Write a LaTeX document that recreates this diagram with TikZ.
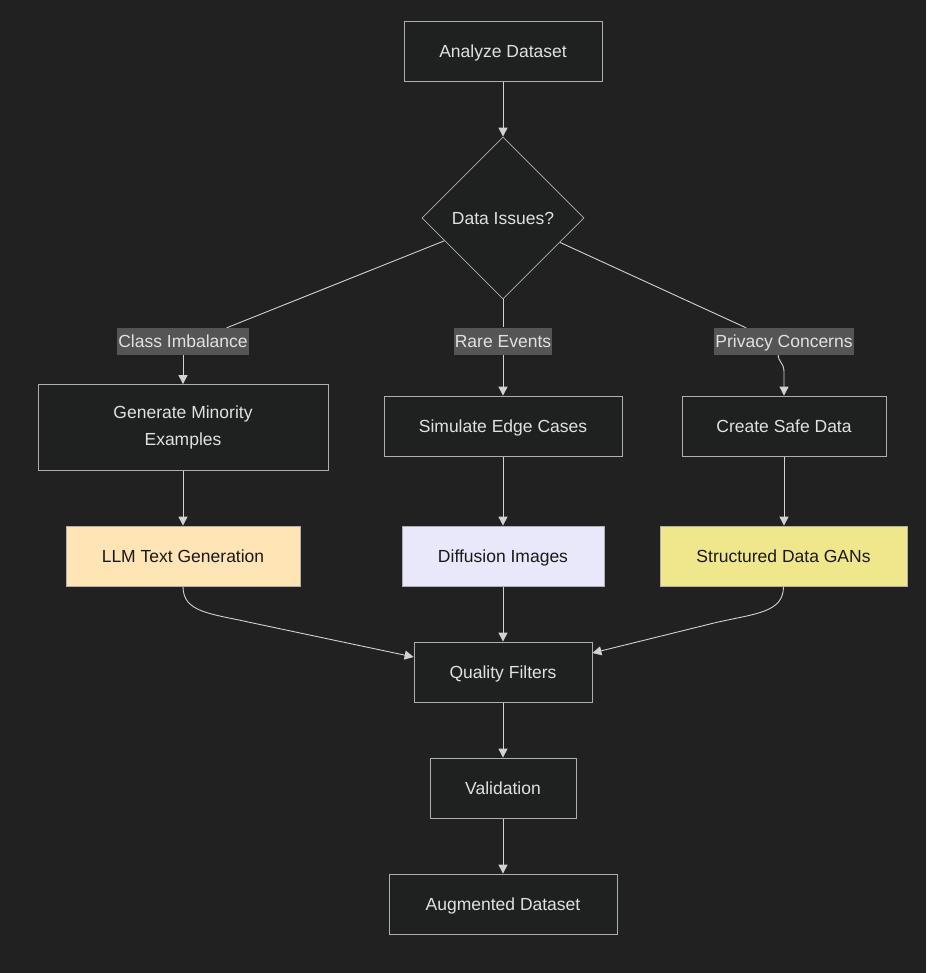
\documentclass[tikz,border=0pt]{standalone}
\usepackage{fontspec}
\setmainfont{Liberation Sans}
\usetikzlibrary{shapes.geometric,arrows.meta,calc}
\definecolor{bgc}{RGB}{33,33,33}
\definecolor{boxfill}{RGB}{31,32,32}
\definecolor{boxline}{RGB}{175,175,175}
\definecolor{linec}{RGB}{210,210,210}
\definecolor{txt}{RGB}{225,225,225}
\definecolor{lblfill}{RGB}{85,85,85}
\definecolor{moccasin}{RGB}{255,228,181}
\definecolor{lavender}{RGB}{232,232,250}
\definecolor{khaki}{RGB}{240,230,140}
\pgfdeclarelayer{back}
\pgfdeclarelayer{bg}
\pgfsetlayers{back,bg,main}
\tikzset{
  x=1pt, y=-1pt,
  every node/.style={font=\fontsize{17.5}{27}\selectfont},
  oneline/.style={text height=12.6pt, text depth=0pt},
  box/.style={draw=boxline, fill=boxfill, text=txt, line width=0.8pt, inner sep=0pt, align=center},
  sbox/.style={box, oneline},
  cbox/.style={draw=boxline, line width=0.8pt, inner sep=0pt, oneline, text={rgb,255:red,25;green,25;blue,25}},
  lbl/.style={fill=lblfill, text=txt, inner xsep=1pt, inner ysep=7.2pt, oneline},
  conn/.style={draw=linec, line width=0.9pt},
  arr/.style={conn, -{Triangle[length=9pt,width=9pt]}},
}
\begin{document}
\begin{tikzpicture}
\begin{pgfonlayer}{back}
\fill[bgc] (0,0) rectangle (926,973);
\end{pgfonlayer}
\useasboundingbox (0,0) rectangle (926,973);

\node[sbox, minimum width=198pt, minimum height=60pt] (ad) at (503,51) {Analyze Dataset};
\node[sbox, shape=diamond, minimum width=162pt, minimum height=162pt] (dia) at (503,218) {Data Issues?};

\node[lbl] (l1) at (183,341) {Class Imbalance};
\node[lbl] (l2) at (503,341) {Rare Events};
\node[lbl] (l3) at (784,341) {Privacy Concerns};

\node[box, minimum width=290pt, minimum height=86pt] (gm) at (183,427.5) {Generate Minority\\Examples};
\node[sbox, minimum width=238pt, minimum height=60pt] (se) at (503,426) {Simulate Edge Cases};
\node[sbox, minimum width=204pt, minimum height=60pt] (cs) at (784,426) {Create Safe Data};

\node[cbox, fill=moccasin, minimum width=234pt, minimum height=60pt] (llm) at (183,556) {LLM Text Generation};
\node[cbox, fill=lavender, minimum width=202pt, minimum height=60pt] (di) at (503,556) {Diffusion Images};
\node[cbox, fill=khaki, minimum width=247pt, minimum height=60pt] (sd) at (783.5,556) {Structured Data GANs};

\node[sbox, minimum width=178pt, minimum height=60pt] (qf) at (503,672) {Quality Filters};
\node[sbox, minimum width=146pt, minimum height=60pt] (va) at (503,788) {Validation};
\node[sbox, minimum width=228pt, minimum height=60pt] (au) at (503,904) {Augmented Dataset};

\begin{pgfonlayer}{bg}
\draw[arr] (ad) -- (dia);
% diamond to labels
\draw[conn] ($(dia.west)!0.28!(dia.south)$) -- ([xshift=45pt]l1.north) -- (l1.south);
\draw[conn] (dia.south) -- (l2);
\draw[conn] ($(dia.east)!0.30!(dia.south)$) -- ([xshift=-39pt]l3.north) -- ([xshift=-6pt]l3.south);
% labels to boxes
\draw[arr] (l1.south) -- (gm.north);
\draw[arr] (l2.south) -- (se.north);
\draw[arr] ([xshift=-6pt]l3.south) .. controls ([xshift=-6pt,yshift=-7pt]l3.south) and ([yshift=-8pt]l3.south) .. ([yshift=-17pt]l3.south) -- (cs.north);
% boxes to tools
\draw[arr] (gm) -- (llm);
\draw[arr] (se) -- (di);
\draw[arr] (cs.south) -- (cs.south |- sd.north);
% tools to quality filters
\draw[arr] (llm.south) .. controls ([yshift=-26pt]llm.south) and ([xshift=27pt,yshift=-27pt]llm.south) .. ([xshift=67pt,yshift=-36pt]llm.south) -- ([yshift=15pt]qf.west);
\draw[arr] (di) -- (qf);
\draw[arr] (sd.south) .. controls ([yshift=-26pt]sd.south) and ([xshift=-27pt,yshift=-27pt]sd.south) .. ([xshift=-67pt,yshift=-36pt]sd.south) -- ([yshift=19pt]qf.east);
\draw[arr] (qf) -- (va);
\draw[arr] (va) -- (au);
\end{pgfonlayer}
\end{tikzpicture}
\end{document}
